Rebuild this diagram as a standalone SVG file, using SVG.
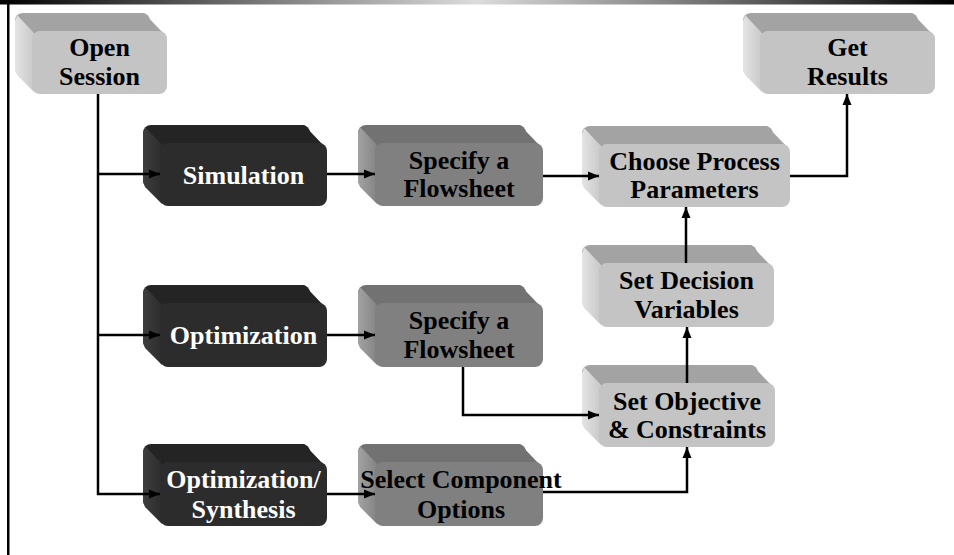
<svg xmlns="http://www.w3.org/2000/svg" width="954" height="555" viewBox="0 0 954 555">
<defs>
<linearGradient id="bar" x1="0" y1="0" x2="1" y2="0">
<stop offset="0" stop-color="#000"/><stop offset="0.5" stop-color="#dcdcdc"/><stop offset="1" stop-color="#000"/>
</linearGradient>
<linearGradient id="lgL" x1="0" y1="0" x2="1" y2="0"><stop offset="0" stop-color="#e4e4e4"/><stop offset="1" stop-color="#c8c8c8"/></linearGradient>
<linearGradient id="lgM" x1="0" y1="0" x2="1" y2="0"><stop offset="0" stop-color="#a2a2a2"/><stop offset="1" stop-color="#848484"/></linearGradient>
<linearGradient id="lgD" x1="0" y1="0" x2="1" y2="0"><stop offset="0" stop-color="#3e3e3e"/><stop offset="1" stop-color="#2c2c2c"/></linearGradient>
<marker id="ah" markerUnits="userSpaceOnUse" markerWidth="12" markerHeight="10" refX="11" refY="5" orient="auto">
<path d="M0,0.5 L11,5 L0,9.5 Z" fill="#000"/>
</marker>
<style>
.light .top{fill:#a3a3a3}.light .left{fill:url(#lgL)}.light .front{fill:#c4c4c4}
.med .top{fill:#727272}.med .left{fill:url(#lgM)}.med .front{fill:#808080}
.dark .top{fill:#242424}.dark .left{fill:url(#lgD)}.dark .front{fill:#2c2c2c}
text{font-family:"Liberation Serif","Times New Roman",serif;font-weight:bold;font-size:26px;text-anchor:middle}
.light text,.med text{fill:#000}.dark text{fill:#fff}
.conn path{fill:none;stroke:#000;stroke-width:2.5}
</style>
</defs>
<rect x="0" y="0" width="954" height="555" fill="#fff"/>
<rect x="0" y="0" width="954" height="4.5" fill="url(#bar)"/>
<rect x="7" y="0" width="2.5" height="555" fill="#000"/>

<g id="open" class="light" transform="translate(32,31)">
<rect class="top" x="-17" y="-18" width="135" height="63" rx="8"/>
<polygon class="top" points="-9,-18 112,-18 133,4 133,20 10,20 -9,0"/>
<polygon class="left" points="-17,-10 -14.5,-15.5 2,2 2,61 -15,44 -17,39"/>
<rect class="front" x="0" y="0" width="135" height="63" rx="8"/>
<text x="67.5" y="25">Open</text><text x="67.5" y="54">Session</text>
</g>

<g id="get" class="light" transform="translate(760,31)">
<rect class="top" x="-17" y="-18" width="175" height="63" rx="8"/>
<polygon class="top" points="-9,-18 152,-18 173,4 173,20 10,20 -9,0"/>
<polygon class="left" points="-17,-10 -14.5,-15.5 2,2 2,61 -15,44 -17,39"/>
<rect class="front" x="0" y="0" width="175" height="63" rx="8"/>
<text x="87.5" y="25">Get</text><text x="87.5" y="54">Results</text>
</g>

<g id="simulation" class="dark" transform="translate(160,143)">
<rect class="top" x="-17" y="-18" width="167" height="63" rx="8"/>
<polygon class="top" points="-9,-18 144,-18 165,4 165,20 10,20 -9,0"/>
<polygon class="left" points="-17,-10 -14.5,-15.5 2,2 2,61 -15,44 -17,39"/>
<rect class="front" x="0" y="0" width="167" height="63" rx="8"/>
<text x="83.5" y="41">Simulation</text>
</g>

<g id="specify1" class="med" transform="translate(375,143)">
<rect class="top" x="-17" y="-18" width="168" height="63" rx="8"/>
<polygon class="top" points="-9,-18 145,-18 166,4 166,20 10,20 -9,0"/>
<polygon class="left" points="-17,-10 -14.5,-15.5 2,2 2,61 -15,44 -17,39"/>
<rect class="front" x="0" y="0" width="168" height="63" rx="8"/>
<text x="84" y="26">Specify a</text><text x="84" y="54">Flowsheet</text>
</g>

<g id="choose" class="light" transform="translate(599,144)">
<rect class="top" x="-17" y="-18" width="191" height="63" rx="8"/>
<polygon class="top" points="-9,-18 168,-18 189,4 189,20 10,20 -9,0"/>
<polygon class="left" points="-17,-10 -14.5,-15.5 2,2 2,61 -15,44 -17,39"/>
<rect class="front" x="0" y="0" width="191" height="63" rx="8"/>
<text x="95.5" y="26">Choose Process</text><text x="95.5" y="54">Parameters</text>
</g>

<g id="decision" class="light" transform="translate(599,263)">
<rect class="top" x="-17" y="-18" width="175" height="64" rx="8"/>
<polygon class="top" points="-9,-18 152,-18 173,4 173,20 10,20 -9,0"/>
<polygon class="left" points="-17,-10 -14.5,-15.5 2,2 2,62 -15,45 -17,40"/>
<rect class="front" x="0" y="0" width="175" height="64" rx="8"/>
<text x="87.5" y="26">Set Decision</text><text x="87.5" y="55">Variables</text>
</g>

<g id="optimization" class="dark" transform="translate(160,303)">
<rect class="top" x="-17" y="-18" width="167" height="64" rx="8"/>
<polygon class="top" points="-9,-18 144,-18 165,4 165,20 10,20 -9,0"/>
<polygon class="left" points="-17,-10 -14.5,-15.5 2,2 2,62 -15,45 -17,40"/>
<rect class="front" x="0" y="0" width="167" height="64" rx="8"/>
<text x="83.5" y="41">Optimization</text>
</g>

<g id="specify2" class="med" transform="translate(375,303)">
<rect class="top" x="-17" y="-18" width="168" height="64" rx="8"/>
<polygon class="top" points="-9,-18 145,-18 166,4 166,20 10,20 -9,0"/>
<polygon class="left" points="-17,-10 -14.5,-15.5 2,2 2,62 -15,45 -17,40"/>
<rect class="front" x="0" y="0" width="168" height="64" rx="8"/>
<text x="84" y="26">Specify a</text><text x="84" y="55">Flowsheet</text>
</g>

<g id="objective" class="light" transform="translate(599,383)">
<rect class="top" x="-17" y="-18" width="176" height="64" rx="8"/>
<polygon class="top" points="-9,-18 153,-18 174,4 174,20 10,20 -9,0"/>
<polygon class="left" points="-17,-10 -14.5,-15.5 2,2 2,62 -15,45 -17,40"/>
<rect class="front" x="0" y="0" width="176" height="64" rx="8"/>
<text x="88" y="27">Set Objective</text><text x="88" y="55">&amp; Constraints</text>
</g>

<g id="optsyn" class="dark" transform="translate(160,462)">
<rect class="top" x="-17" y="-18" width="167" height="64" rx="8"/>
<polygon class="top" points="-9,-18 144,-18 165,4 165,20 10,20 -9,0"/>
<polygon class="left" points="-17,-10 -14.5,-15.5 2,2 2,62 -15,45 -17,40"/>
<rect class="front" x="0" y="0" width="167" height="64" rx="8"/>
<text x="83.5" y="26">Optimization/</text><text x="83.5" y="56">Synthesis</text>
</g>

<g id="select" class="med" transform="translate(375,462)">
<rect class="top" x="-17" y="-18" width="168" height="64" rx="8"/>
<polygon class="top" points="-9,-18 145,-18 166,4 166,20 10,20 -9,0"/>
<polygon class="left" points="-17,-10 -14.5,-15.5 2,2 2,62 -15,45 -17,40"/>
<rect class="front" x="0" y="0" width="168" height="64" rx="8"/>
<text x="86" y="26">Select Component</text><text x="86" y="56">Options</text>
</g>

<g id="connectors" class="conn">
<path d="M98,94 V494 H160" marker-end="url(#ah)"/>
<path d="M98,174 H160" marker-end="url(#ah)"/>
<path d="M98,335 H160" marker-end="url(#ah)"/>
<path d="M327,174 H375" marker-end="url(#ah)"/>
<path d="M543,176 H599" marker-end="url(#ah)"/>
<path d="M790,176 H847 V94" marker-end="url(#ah)"/>
<path d="M686,263 V207" marker-end="url(#ah)"/>
<path d="M687,383 V327" marker-end="url(#ah)"/>
<path d="M463,367 V415 H599" marker-end="url(#ah)"/>
<path d="M327,335 H375" marker-end="url(#ah)"/>
<path d="M327,494 H375" marker-end="url(#ah)"/>
<path d="M543,492 H687 V447" marker-end="url(#ah)"/>
</g>
</svg>
